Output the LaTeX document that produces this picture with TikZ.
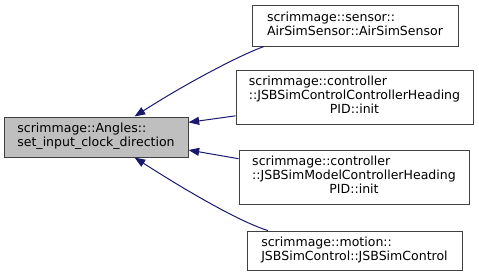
\documentclass[tikz,border=0pt]{standalone}
\usepackage{fontspec}
\setmainfont{DejaVu Sans}
\usetikzlibrary{arrows.meta}
\definecolor{edgeblue}{HTML}{191970}
\definecolor{boxgray}{HTML}{BFBFBF}
\definecolor{boxline}{HTML}{404040}
% left-aligned block of lines inside a function box
\newcommand\fnlines[1]{\begin{tabular}{@{}l@{}}#1\end{tabular}}
\begin{document}
\begin{tikzpicture}[x=0.75pt,y=-0.75pt,
  fn/.style={draw=boxline, line width=0.75pt, fill=white, inner sep=0pt,
    font=\fontsize{9.4}{10.5}\selectfont},
  focus/.style={fn, fill=boxgray},
  call/.style={draw=edgeblue, line width=0.75pt,
    -{Triangle[length=8pt,width=6pt]}}]
\useasboundingbox (0,0) rectangle (479,276);

\node[focus, minimum width=138pt, minimum height=30pt] (main) at (96,137)
  {\fnlines{scrimmage::Angles::\\set\_input\_clock\_direction}};

\node[fn, minimum width=154.5pt, minimum height=30.75pt] (n1) at (355,25.5)
  {\fnlines{scrimmage::sensor::\\AirSimSensor::AirSimSensor}};
\node[fn, minimum width=177.75pt, minimum height=40.5pt] (n2) at (354.5,97)
  {\fnlines{scrimmage::controller\\::JSBSimControlControllerHeading\\\multicolumn{1}{@{}c@{}}{PID::init}}};
\node[fn, minimum width=172.5pt, minimum height=40.5pt] (n3) at (354,177)
  {\fnlines{scrimmage::controller\\::JSBSimModelControllerHeading\\\multicolumn{1}{@{}c@{}}{PID::init}}};
\node[fn, minimum width=161.25pt, minimum height=29.25pt] (n4) at (354.5,250.5)
  {\fnlines{scrimmage::motion::\\JSBSimControl::JSBSimControl}};

% callers point back to the called function
\draw[call] (n1.193.6) .. controls (240,55) and (185,84) .. (main.28.4);
\draw[call] (n2.189.1) -- (main.9.26);
\draw[call] (n3.171.6) -- (main.-8.65);
\draw[call] (n4.167.3) .. controls (240,222) and (185,190) .. (main.-28.4);
\end{tikzpicture}
\end{document}
